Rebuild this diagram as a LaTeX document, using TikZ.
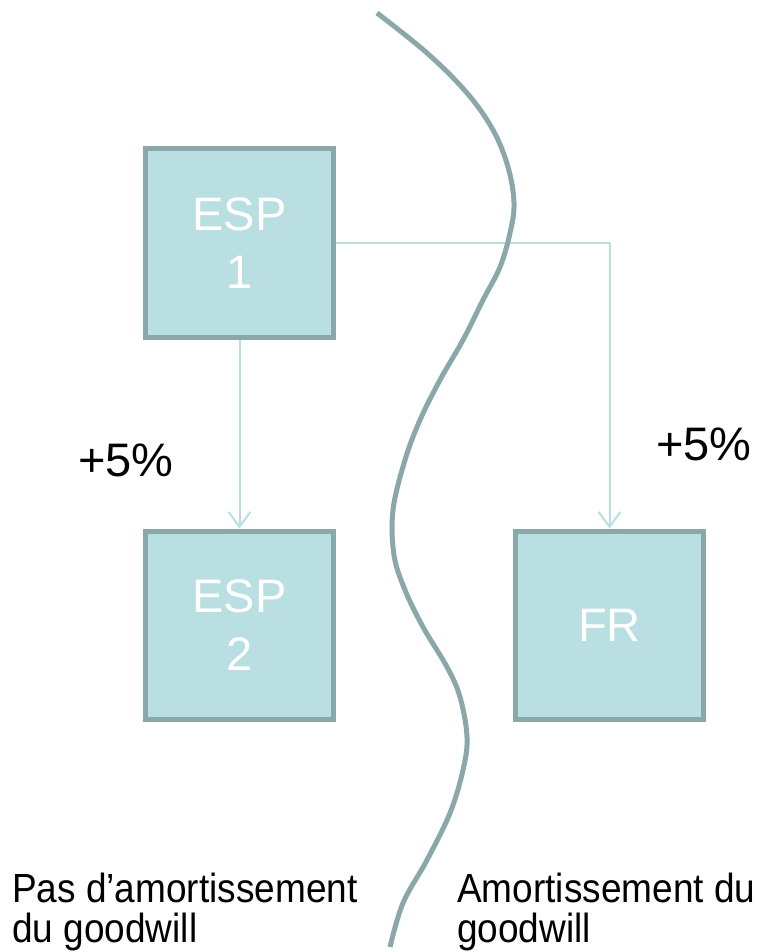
\documentclass[tikz,border=0pt]{standalone}
\usepackage{fontspec}
\setmainfont{Liberation Sans}
\usetikzlibrary{arrows.meta}
\definecolor{boxfill}{HTML}{B9DFE3}
\definecolor{boxline}{HTML}{8AA8A9}
\definecolor{conn}{HTML}{B9DFE3}
\newcommand{\tallline}[1]{\scalebox{1}[1.1]{#1}}
\begin{document}
\begin{tikzpicture}[x=1pt,y=-1pt,
  entity/.style={draw=boxline,fill=boxfill,line width=5pt,minimum width=188pt,minimum height=188pt,inner sep=0pt,
    text=white,align=center,font=\fontsize{47}{58}\selectfont},
  link/.style={draw=conn,line width=2pt,-{Straight Barb[length=15pt,width=22pt,line width=2pt]}},
  pct/.style={font=\fontsize{47}{50}\selectfont,anchor=base west,inner sep=0pt},
  note/.style={font=\fontsize{37}{40}\selectfont,anchor=base west,inner sep=0pt,align=left}]
\useasboundingbox (0,0) rectangle (756,952);
\node[entity] (esp1) at (239.5,243) {ESP\\1};
\node[entity] (esp2) at (239.5,625) {ESP\\2};
\node[entity] (fr) at (609.5,625) {FR};
\coordinate (corner) at (fr.north |- esp1.east);
\draw[link] (esp1.south) -- (esp2.north);
\draw[link] (esp1.east) -- (corner) -- (fr.north);
\draw[boxline,line width=5pt] plot[smooth,tension=0.6] coordinates {(377,13) (427,53) (467,93) (493,130) (508,167) (514,203) (510,233) (500,267) (483,300) (463,340) (440,380) (420,420) (405,460) (393,510) (394,555) (405,590) (423,627) (447,667) (460,697) (467,737) (463,770) (450,813) (427,860) (403,903) (390,947)};
\node[pct] (p1) at (78,476) {+5\%};
\node[pct] (p2) at (656,460) {+5\%};
\node[note] (n1) at (12,942) {\tallline{Pas d’amortissement}\\\tallline{du goodwill}};
\node[note] (n2) at (457,942) {\tallline{Amortissement du}\\\tallline{goodwill}};
\end{tikzpicture}
\end{document}
